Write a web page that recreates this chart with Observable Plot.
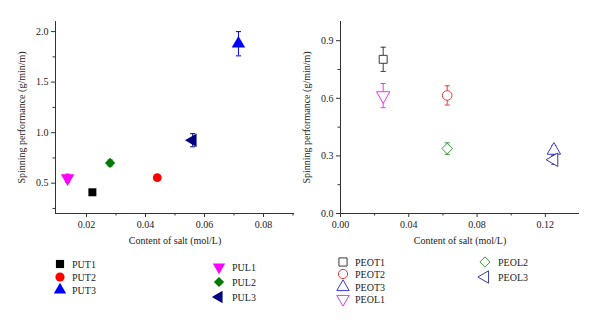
<!DOCTYPE html>
<html>
<head>
<meta charset="utf-8">
<script src="https://cdn.jsdelivr.net/npm/d3@7"></script>
<script src="https://cdn.jsdelivr.net/npm/@observablehq/plot@0.6"></script>
<style>
  html, body { margin: 0; padding: 0; background: #fff; }
  #wrap { position: relative; width: 600px; height: 326px; overflow: hidden; font-family: "Liberation Serif", "DejaVu Serif", serif; }
  .panel { position: absolute; top: 0; }
  .panel text, .panel { font-family: "Liberation Serif", "DejaVu Serif", serif !important; }
  .leg { position: absolute; font-size: 10px; color: #222; font-family: "Liberation Serif", "DejaVu Serif", serif; }
  .leg .row { position: absolute; white-space: nowrap; display: flex; align-items: center; }
  .leg svg { overflow: visible; }
</style>
</head>
<body>
<div id="wrap"></div>
<script>
// ---------- Data ----------
const leftSeries = ["PUT1", "PUT2", "PUT3", "PUL1", "PUL2", "PUL3"];
const leftX      = [0.022, 0.044, 0.0715, 0.0136, 0.028, 0.056];
const leftY      = [0.41, 0.555, 1.88, 0.55, 0.70, 0.925];
const leftErr    = [0.02, 0.02, 0.12, 0.04, 0.03, 0.065];

const rightSeries = ["PEOT1", "PEOT2", "PEOT3", "PEOL1", "PEOL2", "PEOL3"];
const rightX      = [0.025, 0.0625, 0.125, 0.025, 0.0625, 0.125];
const rightY      = [0.803, 0.615, 0.329, 0.614, 0.338, 0.28];
const rightErr    = [0.063, 0.05, 0.025, 0.063, 0.03, 0.024];

const leftXTicks = [0.02, 0.04, 0.06, 0.08];
const leftXMinor = [0.03, 0.05, 0.07, 0.09];
const leftYTicks = [0.5, 1.0, 1.5, 2.0];
const leftYMinor = [0.25, 0.75, 1.25, 1.75];
const rightXTicks = [0.00, 0.04, 0.08, 0.12];
const rightXMinor = [0.02, 0.06, 0.10];
const rightYTicks = [0.0, 0.3, 0.6, 0.9];
const rightYMinor = [0.15, 0.45, 0.75];

const leftXDomain = [0.0095, 0.0905];
const leftYDomain = [0.2, 2.1];
const rightXDomain = [0, 0.14];
const rightYDomain = [0, 1.0];

const xLabel = "Content of salt (mol/L)";
const yLabel = "Spinning performance (g/min/m)";

// ---------- Styles ----------
const shapes = ["square", "circle", "triUp", "triDown", "diamond", "triLeft"];
const leftColors  = ["#000000", "#ff0000", "#0000ff", "#ff00ff", "#007a00", "#000080"];
const rightColors = ["#3a3a3a", "#e23a3a", "#3a3ad6", "#e83ae8", "#3a9a3a", "#3a3a9e"];

// ---------- Symbols ----------
function triangle(angleDeg) {
  return {
    draw(ctx, size) {
      const y = -Math.sqrt(size / (Math.sqrt(3) * 3));
      const pts = [[0, y * 2], [-Math.sqrt(3) * y, -y], [Math.sqrt(3) * y, -y]];
      const a = angleDeg * Math.PI / 180, c = Math.cos(a), s = Math.sin(a);
      pts.forEach(([px, py], i) => {
        const rx = px * c - py * s, ry = px * s + py * c;
        if (i === 0) ctx.moveTo(rx, ry); else ctx.lineTo(rx, ry);
      });
      ctx.closePath();
    }
  };
}
const symbolMap = {
  square: d3.symbolSquare,
  circle: d3.symbolCircle,
  triUp: triangle(0),
  triDown: triangle(180),
  triLeft: triangle(-90),
  diamond: d3.symbolDiamond2
};
const capSymbol = { draw(ctx) { ctx.moveTo(-2.6, 0); ctx.lineTo(2.6, 0); } };

const font = { fontFamily: "'Liberation Serif', 'DejaVu Serif', serif", fontSize: "10px", color: "#222", background: "transparent", overflow: "visible" };
const noLabels = () => "";

function panel({series, xs, ys, errs, colors, filled, xDomain, yDomain, xTicks, xMinor, yTicks, yMinor, xFmt, yFmt, margins, rSizes}) {
  const rows = series.map((s, i) => ({s, i, x: xs[i], y: ys[i], lo: ys[i] - errs[i], hi: ys[i] + errs[i]}));
  const marks = [
    Plot.ruleX([xDomain[0]], {stroke: "#333", strokeWidth: 1}),
    Plot.ruleY([yDomain[0]], {stroke: "#333", strokeWidth: 1}),
    Plot.axisX({ticks: xTicks, tickFormat: d3.format(xFmt), tickSize: 4, tickPadding: 3, stroke: "#333", label: xLabel, labelAnchor: "center", labelArrow: "none", labelOffset: 30}),
    Plot.axisX({ticks: xMinor, tickFormat: noLabels, tickSize: 2.5, stroke: "#333", label: null}),
    Plot.axisY({ticks: yTicks, tickFormat: d3.format(yFmt), tickSize: 4, tickPadding: 3, stroke: "#333", label: yLabel, labelAnchor: "center", labelArrow: "none", labelOffset: 38}),
    Plot.axisY({ticks: yMinor, tickFormat: noLabels, tickSize: 2.5, stroke: "#333", label: null})
  ];
  rows.forEach(d => {
    const c = colors[d.i];
    marks.push(Plot.ruleX([d], {x: "x", y1: "lo", y2: "hi", stroke: c, strokeWidth: 1}));
    marks.push(Plot.dot([d, d], {x: "x", y: (v, j) => j === 0 ? v.lo : v.hi, symbol: capSymbol, r: 3, stroke: c, strokeWidth: 1, fill: "none"}));
    const sym = symbolMap[shapes[d.i]];
    marks.push(Plot.dot([d], {
      x: "x", y: "y", symbol: sym, r: rSizes[d.i],
      fill: filled ? c : "white", stroke: c, strokeWidth: filled ? 0 : 1
    }));
  });
  return Plot.plot({
    width: 300, height: 250,
    marginLeft: margins[0], marginRight: margins[1], marginTop: margins[2], marginBottom: margins[3],
    style: font,
    x: {domain: xDomain, axis: null},
    y: {domain: yDomain, axis: null},
    marks
  });
}

const wrap = document.getElementById("wrap");

const left = panel({
  series: leftSeries, xs: leftX, ys: leftY, errs: leftErr, colors: leftColors, filled: true,
  xDomain: leftXDomain, yDomain: leftYDomain, xTicks: leftXTicks, xMinor: leftXMinor,
  yTicks: leftYTicks, yMinor: leftYMinor, xFmt: ".2f", yFmt: ".1f",
  margins: [55, 6, 21, 37], rSizes: [4.5, 4.4, 5, 5, 4.6, 5]
});
left.classList.add("panel"); left.style.left = "0px";
wrap.appendChild(left);

const right = panel({
  series: rightSeries, xs: rightX, ys: rightY, errs: rightErr, colors: rightColors, filled: false,
  xDomain: rightXDomain, yDomain: rightYDomain, xTicks: rightXTicks, xMinor: rightXMinor,
  yTicks: rightYTicks, yMinor: rightYMinor, xFmt: ".2f", yFmt: ".1f",
  margins: [40, 21, 21, 37], rSizes: [4.5, 4.8, 5, 5, 4.8, 5]
});
right.classList.add("panel"); right.style.left = "300px";
wrap.appendChild(right);

// ---------- Legends ----------
function legendColumn(items, colors, filled, symX, textX, ys) {
  const div = document.createElement("div");
  div.className = "leg";
  div.style.left = "0px"; div.style.top = "0px";
  items.forEach((idx, k) => {
    const row = document.createElement("div");
    row.className = "row";
    row.style.left = (symX - 6) + "px";
    row.style.top = (ys[k] - 7) + "px";
    row.style.height = "14px";
    const svg = d3.create("svg").attr("width", textX - symX + 6).attr("height", 14);
    const sym = symbolMap[shapes[idx]];
    const size = Math.PI * 4.6 * 4.6;
    svg.append("path")
      .attr("transform", "translate(6,7)")
      .attr("d", d3.symbol(sym, size)())
      .attr("fill", filled ? colors[idx] : "white")
      .attr("stroke", filled ? "none" : colors[idx])
      .attr("stroke-width", 1);
    row.appendChild(svg.node());
    const t = document.createElement("span");
    t.textContent = (filled ? leftSeries : rightSeries)[idx];
    row.appendChild(t);
    div.appendChild(row);
  });
  wrap.appendChild(div);
}
legendColumn([0, 1, 2], leftColors, true, 60, 72, [264, 277, 290]);
legendColumn([3, 4, 5], leftColors, true, 219, 232, [267, 282, 297]);
legendColumn([0, 1, 2, 3], rightColors, false, 343, 355, [262, 274, 287, 299]);
legendColumn([4, 5], rightColors, false, 485, 498, [262, 277]);
</script>
</body>
</html>
